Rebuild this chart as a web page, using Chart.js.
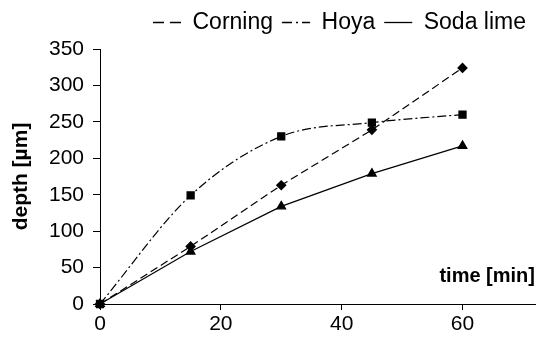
<!DOCTYPE html>
<html>
<head>
<meta charset="utf-8">
<script src="https://cdn.jsdelivr.net/npm/chart.js@4.4.1/dist/chart.umd.min.js"></script>
<style>
  html, body { margin: 0; padding: 0; background: #fff; }
  #wrap { width: 544px; height: 340px; }
</style>
</head>
<body>
<div id="wrap"><canvas id="myChart"></canvas></div>
<script>
const times = [0, 15, 30, 45, 60];
const corning = [0, 79, 163, 239, 324];
const hoya = [0, 149, 230, 249, 260];
const sodaLime = [0, 72, 134, 179, 217];
const xTicks = [0, 20, 40, 60];
const yTicks = [0, 50, 100, 150, 200, 250, 300, 350];

const FONT = "'Liberation Sans', Arial, Helvetica, sans-serif";

// legend sample dashes are a bit longer than the plotted ones
const legendDash = [[11, 6], [10, 4, 2, 4], []];

function points(values) {
  return times.map((t, i) => ({ x: t, y: values[i] }));
}

// "time [min]" sits inside the plot, above the x axis, right aligned
const xTitlePlugin = {
  id: "xTitle",
  afterDraw(chart) {
    const ctx = chart.ctx;
    const area = chart.chartArea;
    ctx.save();
    ctx.font = "bold 20px " + FONT;
    ctx.fillStyle = "#000";
    ctx.textAlign = "right";
    ctx.textBaseline = "middle";
    ctx.fillText("time [min]", area.right, 276);
    ctx.restore();
  },
};

function renderChart() {
  const ctx = document.getElementById("myChart");

  Chart.defaults.font.family = FONT;
  Chart.defaults.font.size = 21;
  Chart.defaults.color = "#000";

  new Chart(ctx, {
    type: "line",
    data: {
      datasets: [
        {
          label: "Corning",
          data: points(corning),
          borderColor: "#000",
          backgroundColor: "#000",
          borderWidth: 1.2,
          borderDash: [8, 4],
          pointStyle: "rectRot",
          pointRadius: 4.5,
          tension: 0,
          clip: false,
        },
        {
          label: "Hoya",
          data: points(hoya),
          borderColor: "#000",
          backgroundColor: "#000",
          borderWidth: 1.2,
          borderDash: [9, 3, 2, 3],
          pointStyle: "rect",
          pointRadius: 5,
          cubicInterpolationMode: "monotone",
          clip: false,
        },
        {
          label: "Soda lime",
          data: points(sodaLime),
          borderColor: "#000",
          backgroundColor: "#000",
          borderWidth: 1.2,
          pointStyle: "triangle",
          pointRadius: 5,
          tension: 0,
          clip: false,
        },
      ],
    },
    options: {
      responsive: true,
      maintainAspectRatio: false,
      animation: false,
      devicePixelRatio: 1,
      layout: { padding: { top: 2, right: 9, left: 0, bottom: 0 } },
      plugins: {
        tooltip: { enabled: false },
        legend: {
          position: "top",
          align: "end",
          fullSize: false,
          labels: {
            usePointStyle: true,
            pointStyleWidth: 28,
            padding: 9,
            font: { size: 23 },
            color: "#000",
            generateLabels(chart) {
              const items = Chart.defaults.plugins.legend.labels.generateLabels(chart);
              items.forEach((it) => {
                it.pointStyle = "line";
                it.fillStyle = "#000";
                it.strokeStyle = "#000";
                it.lineWidth = 1.3;
                it.lineDash = legendDash[it.datasetIndex];
              });
              return items;
            },
          },
        },
      },
      scales: {
        x: {
          type: "linear",
          min: 0,
          max: 72,
          afterFit: (s) => { s.height = 36; },
          afterBuildTicks: (s) => { s.ticks = xTicks.map((v) => ({ value: v })); },
          grid: { display: true, drawOnChartArea: false, drawTicks: true, tickLength: 6, color: "#000" },
          border: { color: "#000", width: 1 },
          ticks: { padding: 2, font: { size: 21 } },
        },
        spacer: {
          type: "linear",
          position: "top",
          afterFit: (s) => { s.height = 5; },
          grid: { display: false },
          border: { display: false },
          ticks: { display: false },
        },
        y: {
          min: 0,
          max: 350,
          afterFit: (s) => { s.width = 100; },
          afterBuildTicks: (s) => { s.ticks = yTicks.map((v) => ({ value: v })); },
          grid: { display: true, drawOnChartArea: false, drawTicks: true, tickLength: 7, color: "#000" },
          border: { color: "#000", width: 1 },
          ticks: { padding: 9, font: { size: 21 } },
          title: {
            display: true,
            text: "depth [µm]",
            font: { size: 21, weight: "bold" },
            padding: { top: 9, bottom: 0 },
          },
        },
      },
    },
    plugins: [xTitlePlugin],
  });
}

renderChart();
</script>
</body>
</html>
